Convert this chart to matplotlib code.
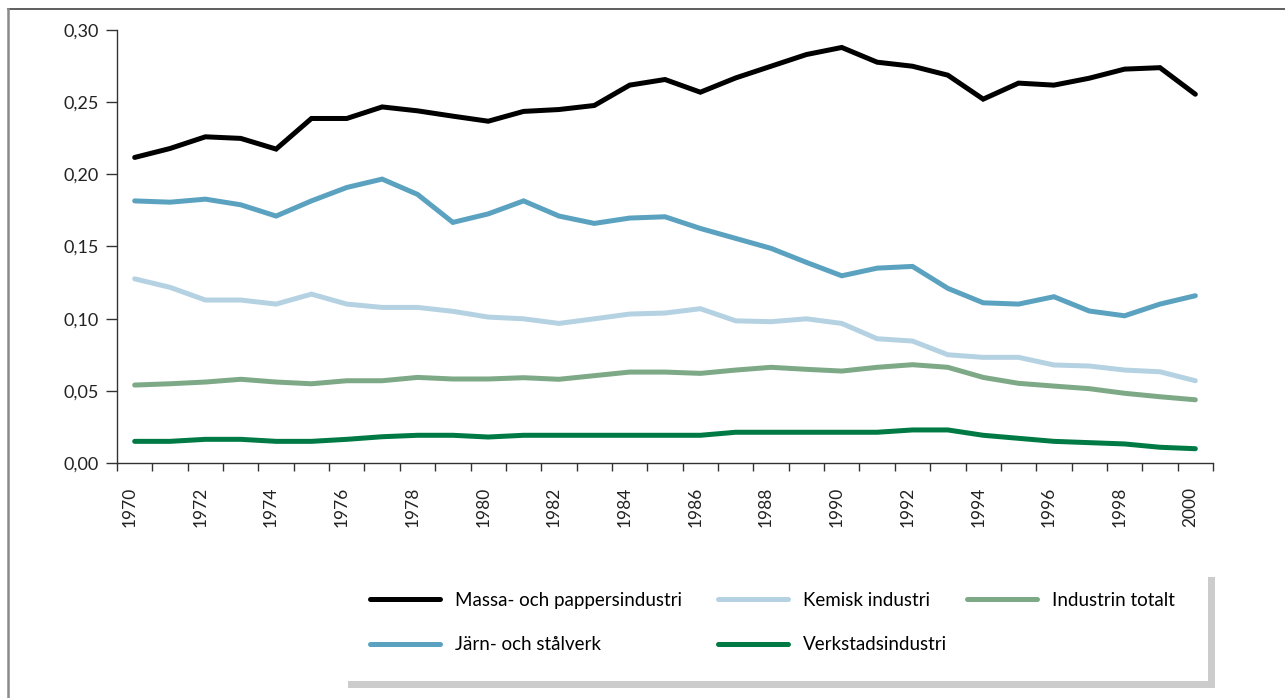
#!/usr/bin/env python3
"""Line chart: five industry series 1970-2000 (Swedish labels)."""

import matplotlib
matplotlib.use("Agg")
import numpy as np
import matplotlib.pyplot as plt
import matplotlib.transforms as mtransforms
from matplotlib.lines import Line2D
from matplotlib.patches import Rectangle

years = list(range(1970, 2001))

massa = [0.2117, 0.2179, 0.2260, 0.2249, 0.2175, 0.2387, 0.2387, 0.2467, 0.2440, 0.2403,
         0.2368, 0.2436, 0.2449, 0.2477, 0.2618, 0.2657, 0.2569, 0.2668, 0.2749, 0.2830,
         0.2879, 0.2777, 0.2749, 0.2687, 0.2521, 0.2632, 0.2618, 0.2666, 0.2729, 0.2739,
         0.2555]
jarn = [0.1816, 0.1807, 0.1828, 0.1789, 0.1711, 0.1816, 0.1909, 0.1967, 0.1861, 0.1667,
        0.1726, 0.1816, 0.1711, 0.1660, 0.1697, 0.1706, 0.1625, 0.1556, 0.1487, 0.1390,
        0.1297, 0.1350, 0.1362, 0.1210, 0.1110, 0.1101, 0.1152, 0.1053, 0.1020, 0.1101,
        0.1159]
kemisk = [0.1276, 0.1217, 0.1129, 0.1129, 0.1101, 0.1170, 0.1101, 0.1078, 0.1078, 0.1051,
          0.1011, 0.0999, 0.0967, 0.0999, 0.1032, 0.1039, 0.1069, 0.0985, 0.0979, 0.0999,
          0.0967, 0.0861, 0.0845, 0.0750, 0.0732, 0.0732, 0.0679, 0.0672, 0.0644, 0.0632,
          0.0570]
totalt = [0.0540, 0.0549, 0.0561, 0.0580, 0.0561, 0.0549, 0.0570, 0.0570, 0.0593, 0.0582,
          0.0582, 0.0591, 0.0580, 0.0605, 0.0630, 0.0630, 0.0621, 0.0644, 0.0663, 0.0649,
          0.0637, 0.0663, 0.0681, 0.0663, 0.0593, 0.0552, 0.0533, 0.0515, 0.0483, 0.0459,
          0.0438]
verkstad = [0.0150, 0.0150, 0.0164, 0.0164, 0.0150, 0.0150, 0.0164, 0.0182, 0.0192, 0.0192,
            0.0180, 0.0192, 0.0192, 0.0192, 0.0192, 0.0192, 0.0192, 0.0213, 0.0213, 0.0213,
            0.0213, 0.0213, 0.0229, 0.0229, 0.0192, 0.0171, 0.0150, 0.0141, 0.0132, 0.0109,
            0.0099]

labels = ["Massa- och pappersindustri", "Järn- och stålverk", "Kemisk industri",
          "Verkstadsindustri", "Industrin totalt"]
yticks = [0.0, 0.05, 0.10, 0.15, 0.20, 0.25, 0.30]

plt.rcParams["font.family"] = ["Lato", "DejaVu Sans"]

W, H = 1285, 698
fig = plt.figure(figsize=(W / 100, H / 100), dpi=100)


def fx(px):
    return px / W


def fy(py):
    return 1 - py / H


ax = fig.add_axes([fx(117), fy(463), fx(1213) - fx(117), fy(30) - fy(463)])

x = np.arange(len(years))
lines = {}
for lab, vals, col in [
    ("Massa- och pappersindustri", massa, "#000000"),
    ("Järn- och stålverk", jarn, "#5aa2bf"),
    ("Kemisk industri", kemisk, "#b5d2e3"),
    ("Industrin totalt", totalt, "#7ea987"),
    ("Verkstadsindustri", verkstad, "#007a45"),
]:
    ln, = ax.plot(x, vals, color=col, lw=3.6, solid_joinstyle="miter",
                  solid_capstyle="round", label=lab)
    lines[lab] = ln

ax.set_xlim(-0.5, len(years) - 0.5)
ax.set_ylim(0, 0.30)

for s in ["top", "right"]:
    ax.spines[s].set_visible(False)
for s in ["left", "bottom"]:
    ax.spines[s].set_color("#333333")
    ax.spines[s].set_linewidth(1.0)

ax.set_yticks(yticks)
ax.set_yticklabels([f"{v:.2f}".replace(".", ",") for v in yticks])
ax.tick_params(axis="y", direction="out", length=8, width=1.0, color="#333333",
               pad=5, labelsize=13, labelcolor="#222222")

# tick marks between categories, labels on every second year
ax.set_xticks(np.arange(-0.5, len(years), 1.0))
ax.set_xticklabels([])
ax.set_xticks(x[::2], minor=True)
ax.set_xticklabels([str(y) for y in years[::2]], minor=True, rotation=90,
                   fontsize=12.5, color="#222222")
ax.tick_params(axis="x", which="major", direction="out", length=6, width=1.0,
               color="#333333")
ax.tick_params(axis="x", which="minor", length=0, pad=17)
off = mtransforms.ScaledTranslation(-5 / 100, 0, fig.dpi_scale_trans)
for t in ax.get_xticklabels(minor=True):
    t.set_transform(t.get_transform() + off)

# legend as three columns
cols = [
    (370, ["Massa- och pappersindustri", "Järn- och stålverk"]),
    (718, ["Kemisk industri", "Verkstadsindustri"]),
    (967, ["Industrin totalt"]),
]
for xpx, labs in cols:
    fig.legend([lines[l] for l in labs], labs, loc="upper left",
               bbox_to_anchor=(fx(xpx), fy(592)), frameon=False, fontsize=13.5,
               handlelength=3.75, handletextpad=0.8, labelspacing=1.45,
               borderpad=0, borderaxespad=0)

# legend box shadow
fig.add_artist(Rectangle((fx(348), fy(688)), fx(1215) - fx(348), fy(681) - fy(688),
                         transform=fig.transFigure, color="#cccccc", lw=0))
fig.add_artist(Rectangle((fx(1208), fy(688)), fx(1215) - fx(1208), fy(577) - fy(688),
                         transform=fig.transFigure, color="#cccccc", lw=0))

# page frame
fig.add_artist(Line2D([fx(8), 1], [fy(9), fy(9)], transform=fig.transFigure,
                      color="#333333", lw=1.1))
fig.add_artist(Line2D([fx(8), fx(8)], [fy(9), 0], transform=fig.transFigure,
                      color="#8a8a8a", lw=1.8))

fig.savefig("out.png", dpi=100)
